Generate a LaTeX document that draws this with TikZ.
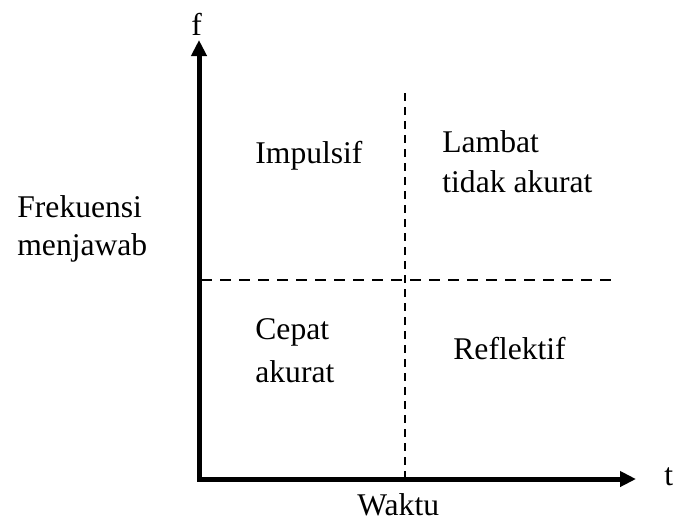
\documentclass[tikz,border=0pt]{standalone}
\usepackage{fontspec}
\setmainfont{Liberation Serif}
\usetikzlibrary{arrows.meta}
\begin{document}
\begin{tikzpicture}[x=0.5pt,y=-0.5pt,
  lbl/.style={inner sep=0pt,anchor=base west,font=\fontsize{15.8}{19}\selectfont},
  axis/.style={line width=2.5pt,line join=miter,
    {Triangle[length=8pt,width=7.5pt]}-{Triangle[length=8pt,width=7.5pt]}},
  vdash/.style={line width=1pt,dash pattern=on 4pt off 3pt},
  hdash/.style={line width=1pt,dash pattern=on 5.5pt off 4pt}]
\useasboundingbox (0,0) rectangle (673,520);
% axes
\coordinate (O) at (199,479);
\coordinate (ytip) at (199,40);
\coordinate (xtip) at (636,479);
\draw[axis] (ytip) -- (O) -- (xtip);
% quadrant dividers
\coordinate (vtop) at (405,93);
\coordinate (vbot) at (405,477);
\coordinate (hl) at (201,280);
\coordinate (hr) at (614,280);
\draw[vdash] (vtop) -- (vbot);
\draw[hdash] (hl) -- (hr);
% axis labels
\node[lbl] (f) at (191,35) {f};
\node[lbl] (t) at (664,485) {t};
\node[lbl] (waktu) at (357,515) {Waktu};
\node[lbl] (frek) at (17,217) {Frekuensi};
\node[lbl] (menj) at (17,255) {menjawab};
% quadrant labels
\node[lbl] (imp) at (255,163) {Impulsif};
\node[lbl] (lam) at (442,152) {Lambat};
\node[lbl] (tid) at (442,192) {tidak akurat};
\node[lbl] (cep) at (255,339) {Cepat};
\node[lbl] (aku) at (255,382) {akurat};
\node[lbl] (ref) at (453,359) {Reflektif};
\end{tikzpicture}
\end{document}
